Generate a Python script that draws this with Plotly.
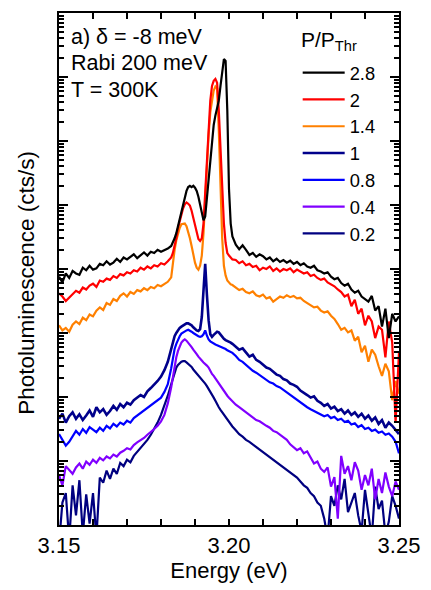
import numpy as np
import plotly.graph_objects as go

# Photon energy grid (eV): 1 meV steps, 0.5 meV around the polariton peaks
energy = np.concatenate([
    np.arange(3150, 3183) / 1000,
    np.arange(6366, 6403) / 2000,
    np.arange(3202, 3251) / 1000,
])

# log10 of PL intensity (cts/s) for each pump power P/P_Thr
log_pl_2p8 = [
    3.88, 3.79, 3.93, 3.86, 3.97, 3.93, 3.91, 4.02, 3.98, 4.05, 3.99, 4.01, 4.08, 4.06, 4.12, 4.07, 4.10,
    4.16, 4.11, 4.18, 4.15, 4.19, 4.23, 4.17, 4.22, 4.26, 4.21, 4.27, 4.25, 4.30, 4.27, 4.29, 4.32,
    4.36, 4.41, 4.48, 4.56, 4.67, 4.79, 4.91, 5.02, 5.13, 5.22, 5.28, 5.30, 5.28, 5.30, 5.27, 5.22,
    5.13, 5.01, 4.87, 4.76, 4.82, 5.10, 5.40, 5.71, 6.02, 6.25, 6.40, 6.51, 6.63, 6.86, 7.12, 7.28,
    7.25, 6.48, 5.25, 4.71, 4.51,
    4.38, 4.31, 4.37, 4.30, 4.22, 4.25, 4.19, 4.23, 4.20, 4.15, 4.18, 4.12, 4.16, 4.11, 4.14, 4.10,
    4.13, 4.08, 4.11, 4.06, 4.09, 4.04, 4.02, 4.05, 3.98, 3.96, 3.93, 3.95, 3.88, 3.84, 3.86, 3.78,
    3.74, 3.77, 3.68, 3.63, 3.66, 3.57, 3.53, 3.49, 3.58, 3.35, 3.42, 3.10, 3.38, 2.92, 3.30, 3.18, 3.26,
]
log_pl_2 = [
    3.62, 3.57, 3.50, 3.55, 3.60, 3.66, 3.63, 3.71, 3.68, 3.74, 3.77, 3.72, 3.82, 3.80, 3.85, 3.83, 3.89,
    3.86, 3.92, 3.90, 3.95, 3.93, 3.98, 3.96, 4.02, 3.99, 4.04, 4.01, 4.06, 4.04, 4.09, 4.07, 4.12,
    4.18, 4.25, 4.36, 4.48, 4.64, 4.76, 4.87, 4.95, 5.01, 5.04, 5.02, 4.99, 4.91, 4.79, 4.67, 4.55,
    4.47, 4.44, 4.48, 4.71, 5.17, 5.71, 6.25, 6.63, 6.86, 6.94, 6.97, 6.91, 6.48, 5.87, 5.25, 4.71,
    4.41, 4.25, 4.21, 4.18, 4.15,
    4.14, 4.09, 4.12, 4.06, 4.08, 4.03, 4.05, 3.98, 4.02, 4.00, 4.04, 3.97, 4.01, 3.96, 4.00, 3.98,
    4.01, 3.95, 3.99, 3.96, 3.93, 3.95, 3.89, 3.91, 3.86, 3.83, 3.85, 3.79, 3.76, 3.73, 3.68, 3.64,
    3.57, 3.60, 3.42, 3.52, 3.30, 3.38, 3.12, 3.27, 3.18, 2.92, 3.10, 3.05, 2.62, 3.18, 2.85, 1.60, 2.70,
]
log_pl_1p4 = [
    3.12, 3.04, 3.08, 3.02, 3.13, 3.18, 3.14, 3.24, 3.20, 3.29, 3.26, 3.35, 3.40, 3.36, 3.47, 3.44, 3.53,
    3.50, 3.58, 3.62, 3.57, 3.64, 3.61, 3.67, 3.65, 3.70, 3.67, 3.72, 3.70, 3.75, 3.73, 3.77, 3.80,
    3.87, 4.10, 4.30, 4.45, 4.56, 4.64, 4.70, 4.71, 4.71, 4.67, 4.59, 4.48, 4.36, 4.21, 4.10, 4.02,
    3.99, 4.05, 4.21, 4.56, 5.10, 5.64, 6.10, 6.45, 6.66, 6.79, 6.85, 6.82, 6.17, 5.25, 4.48, 4.05,
    3.90, 3.82, 3.79, 3.76, 3.75,
    3.71, 3.67, 3.69, 3.64, 3.62, 3.65, 3.59, 3.57, 3.60, 3.54, 3.56, 3.49, 3.53, 3.57, 3.55, 3.59,
    3.56, 3.58, 3.54, 3.55, 3.50, 3.47, 3.44, 3.40, 3.41, 3.35, 3.32, 3.34, 3.27, 3.22, 3.14, 3.05,
    3.08, 3.01, 3.04, 2.88, 2.94, 2.70, 2.80, 2.55, 2.74, 2.66, 2.48, 2.33, 2.52, 2.40, 1.95, 2.25, 2.05,
]
log_pl_1 = [
    1.66, 1.74, 1.60, 1.70, 1.76, 1.66, 1.73, 1.64, 1.71, 1.79, 1.69, 1.84, 1.76, 1.81, 1.72, 1.78, 1.86,
    1.80, 1.89, 1.84, 1.91, 1.88, 1.95, 1.99, 2.03, 2.00, 2.09, 2.14, 2.19, 2.25, 2.32, 2.42, 2.55,
    2.75, 2.87, 2.95, 3.00, 3.05, 3.08, 3.10, 3.12, 3.13, 3.15, 3.15, 3.14, 3.12, 3.09, 3.06, 3.04,
    3.03, 3.06, 3.25, 3.70, 4.08, 3.60, 3.20, 2.98, 2.94, 2.97, 3.00, 3.02, 3.01, 2.97, 2.93, 2.91,
    2.89, 2.88, 2.86, 2.85, 2.83,
    2.79, 2.74, 2.76, 2.69, 2.63, 2.66, 2.58, 2.55, 2.51, 2.46, 2.44, 2.40, 2.35, 2.33, 2.28, 2.26,
    2.21, 2.19, 2.16, 2.10, 2.07, 2.03, 1.99, 2.01, 1.94, 1.91, 1.86, 1.89, 1.82, 1.85, 1.78, 1.81,
    1.74, 1.79, 1.72, 1.76, 1.69, 1.74, 1.66, 1.71, 1.63, 1.68, 1.58, 1.64, 1.52, 1.60, 1.55, 1.49, 1.42,
]
log_pl_0p8 = [
    1.42, 1.33, 1.24, 1.30, 1.38, 1.47, 1.41, 1.50, 1.44, 1.53, 1.49, 1.45, 1.52, 1.47, 1.55, 1.51, 1.58,
    1.54, 1.60, 1.57, 1.63, 1.60, 1.67, 1.71, 1.74, 1.79, 1.83, 1.86, 1.90, 1.94, 1.99, 2.08, 2.20,
    2.45, 2.62, 2.75, 2.83, 2.90, 2.95, 2.99, 3.01, 3.03, 3.04, 3.05, 3.04, 3.02, 3.00, 2.98, 2.96,
    2.95, 2.94, 2.95, 2.98, 3.04, 2.96, 2.90, 2.87, 2.85, 2.84, 2.82, 2.81, 2.80, 2.78, 2.77, 2.76,
    2.75, 2.73, 2.72, 2.70, 2.69,
    2.64, 2.58, 2.55, 2.50, 2.45, 2.41, 2.38, 2.34, 2.30, 2.27, 2.23, 2.21, 2.17, 2.15, 2.11, 2.08,
    2.03, 1.99, 1.95, 1.91, 1.87, 1.84, 1.81, 1.78, 1.76, 1.72, 1.70, 1.72, 1.67, 1.69, 1.64, 1.66,
    1.61, 1.63, 1.57, 1.59, 1.53, 1.56, 1.50, 1.52, 1.47, 1.49, 1.44, 1.46, 1.41, 1.43, 1.38, 1.30, 1.12,
]
log_pl_0p4 = [
    0.78, 0.62, 0.92, 0.86, 0.80, 0.90, 0.96, 0.88, 0.99, 0.94, 1.02, 0.97, 1.05, 1.01, 1.07, 1.04, 1.10,
    1.07, 1.13, 1.16, 1.20, 1.18, 1.25, 1.29, 1.32, 1.36, 1.41, 1.45, 1.50, 1.55, 1.62, 1.72, 1.90,
    2.15, 2.32, 2.50, 2.62, 2.72, 2.80, 2.85, 2.88, 2.90, 2.88, 2.85, 2.82, 2.78, 2.74, 2.71, 2.67,
    2.63, 2.59, 2.57, 2.54, 2.52, 2.49, 2.46, 2.40, 2.36, 2.33, 2.29, 2.24, 2.20, 2.16, 2.12, 2.08,
    2.05, 2.02, 1.99, 1.96, 1.93,
    1.88, 1.84, 1.80, 1.77, 1.73, 1.69, 1.64, 1.62, 1.58, 1.55, 1.52, 1.47, 1.45, 1.41, 1.36, 1.33,
    1.26, 1.22, 1.17, 1.20, 1.12, 1.15, 1.05, 0.96, 0.99, 0.88, 0.83, 0.90, 0.60, 0.75, 0.10, 1.08,
    0.80, 0.92, 0.70, 0.98, 0.85, 0.55, 0.78, 0.62, 0.88, 0.40, 0.72, 0.50, 0.82, 0.60, 0.45, 0.68, 0.55,
]
log_pl_0p2 = [
    -0.30, 0.35, 0.50, -0.25, 0.62, 0.15, 0.70, -0.15, 0.48, 0.02, 0.50, -0.20, 0.74, 0.66, 0.85, 0.72, 0.88,
    0.80, 0.97, 0.92, 1.02, 0.98, 1.08, 1.14, 1.20, 1.27, 1.33, 1.41, 1.50, 1.60, 1.72, 1.86, 2.02,
    2.20, 2.30, 2.40, 2.46, 2.50, 2.53, 2.55, 2.56, 2.56, 2.54, 2.52, 2.50, 2.47, 2.43, 2.40, 2.36,
    2.33, 2.30, 2.27, 2.24, 2.21, 2.17, 2.13, 2.08, 2.03, 1.99, 1.94, 1.88, 1.84, 1.80, 1.76, 1.72,
    1.68, 1.64, 1.60, 1.57, 1.54,
    1.48, 1.42, 1.38, 1.33, 1.30, 1.26, 1.22, 1.18, 1.15, 1.10, 1.06, 1.02, 0.98, 0.95, 0.90, 0.86,
    0.82, 0.78, 0.74, 0.68, 0.62, 0.58, 0.50, 0.45, 0.35, 0.30, 0.10, -0.20, 0.45, 0.30, 0.62, 0.40,
    0.72, 0.20, 0.35, 0.50, 0.15, -0.10, 0.55, 0.20, -0.20, 0.60, 0.25, 0.38, -0.15, 0.05, 0.45, 0.30, 0.10,
]

power_labels = ["2.8", "2", "1.4", "1", "0.8", "0.4", "0.2"]
spectra = [log_pl_2p8, log_pl_2, log_pl_1p4, log_pl_1, log_pl_0p8, log_pl_0p4, log_pl_0p2]
colors = ["#000000", "#ff0000", "#ff8000", "#00008b", "#0000ff", "#8000ff", "#000080"]
widths = [2.2, 2.2, 2.2, 2.6, 2.2, 2.2, 2.2]

FONT = "Arial, Liberation Sans, sans-serif"

fig = go.Figure()
# lowest power drawn first so the high-power spectra sit on top
for rank in reversed(range(len(power_labels))):
    fig.add_trace(go.Scatter(
        x=energy,
        y=np.power(10.0, spectra[rank]),
        mode="lines",
        name=power_labels[rank],
        legendrank=rank + 1,
        line=dict(color=colors[rank], width=widths[rank]),
    ))

fig.update_layout(
    width=431,
    height=590,
    margin=dict(l=59, r=26, t=11, b=58),
    paper_bgcolor="white",
    plot_bgcolor="white",
    font=dict(family=FONT, color="black"),
    showlegend=True,
    legend=dict(
        x=0.702, y=0.9194, xanchor="left", yanchor="top",
        bgcolor="rgba(0,0,0,0)",
        font=dict(size=18.3, family=FONT),
        itemwidth=42,
        traceorder="normal",
    ),
    xaxis=dict(
        range=[3.15, 3.25],
        tick0=3.15, dtick=0.05, tickformat=".2f",
        ticks="inside", ticklen=6, tickwidth=2, tickcolor="black",
        minor=dict(dtick=0.01, ticks="inside", ticklen=6, tickwidth=2, tickcolor="black", showgrid=False),
        showline=True, linewidth=2, linecolor="black", mirror="allticks",
        showgrid=False, zeroline=False,
        tickfont=dict(size=22, family=FONT),
        title=dict(text="Energy (eV)", font=dict(size=22, family=FONT), standoff=5),
    ),
    yaxis=dict(
        type="log", range=[0, 8], dtick=1,
        ticks="inside", ticklen=9, tickwidth=2, tickcolor="black",
        minor=dict(ticks="inside", ticklen=5, tickwidth=1.5, tickcolor="black", showgrid=False),
        showticklabels=False,
        showline=True, linewidth=2, linecolor="black", mirror="allticks",
        showgrid=False, zeroline=False,
    ),
)

# y-axis label, set slightly below the middle of the axis
fig.add_annotation(
    text="Photoluminescence (cts/s)", xref="paper", yref="paper",
    x=-33 / 346, y=(532 - 286) / 521, textangle=-90,
    xanchor="center", yanchor="middle", showarrow=False,
    font=dict(size=22.5, family=FONT, color="black"),
)

# legend heading
fig.add_annotation(
    text="P/P<sub>Thr</sub>", xref="paper", yref="paper",
    x=(303 - 59) / 346, y=(532 - 40) / 521,
    xanchor="left", yanchor="middle", showarrow=False,
    font=dict(size=21, family=FONT, color="black"),
)

notes = [("a) δ = -8 meV", 35), ("Rabi 200 meV", 62), ("T = 300K", 89)]
for text, ypix in notes:
    fig.add_annotation(
        text=text, xref="paper", yref="paper",
        x=10 / 346, y=(532 - ypix) / 521,
        xanchor="left", yanchor="middle", showarrow=False,
        font=dict(size=21.5, family=FONT, color="black"),
    )

fig.write_html("out.html")
